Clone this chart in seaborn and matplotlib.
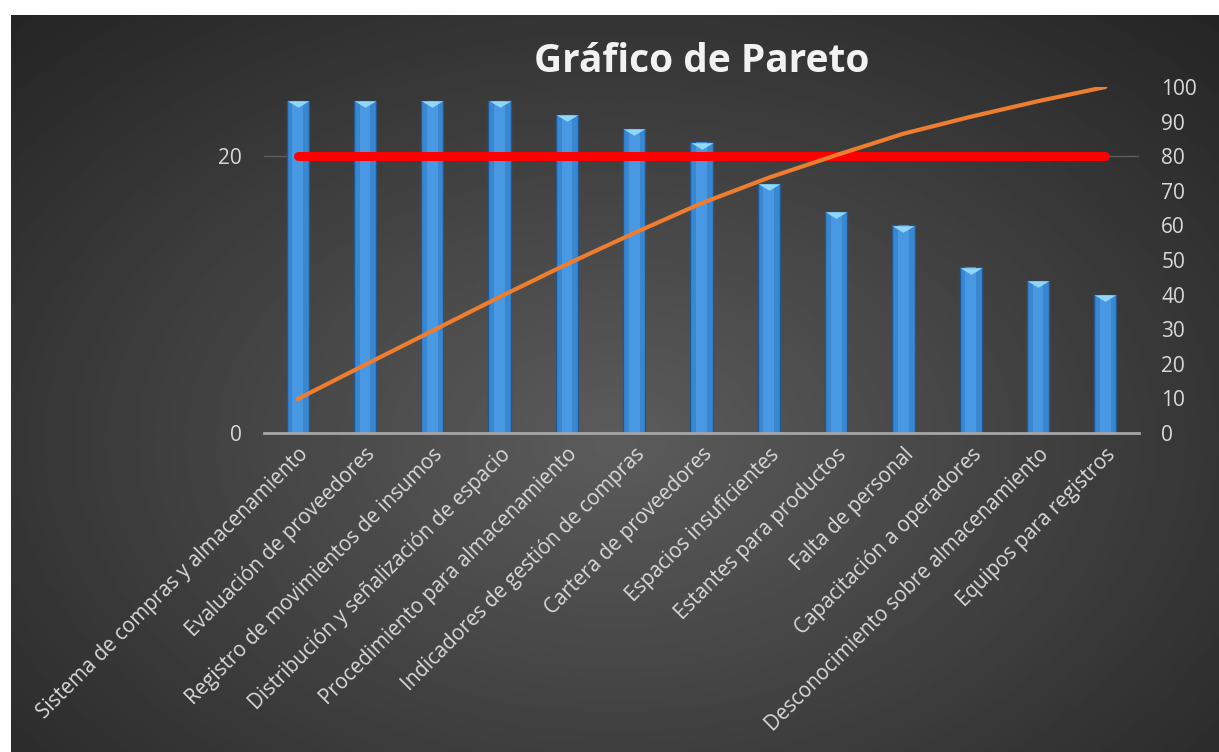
import numpy as np
import pandas as pd
import matplotlib
matplotlib.use("Agg")
import matplotlib.pyplot as plt
import matplotlib.transforms as mtransforms
import seaborn as sns

# datos del grafico
causas = [
    "Sistema de compras y almacenamiento",
    "Evaluación de proveedores",
    "Registro de movimientos de insumos",
    "Distribución y señalización de espacio",
    "Procedimiento para almacenamiento",
    "Indicadores de gestión de compras",
    "Cartera de proveedores",
    "Espacios insuficientes",
    "Estantes para productos",
    "Falta de personal",
    "Capacitación a operadores",
    "Desconocimiento sobre almacenamiento",
    "Equipos para registros",
]
frecuencia = [24, 24, 24, 24, 23, 22, 21, 18, 16, 15, 12, 11, 10]
acumulado = [9.8, 19.7, 29.5, 39.3, 48.8, 57.8, 66.4, 73.8, 80.3, 86.5, 91.4, 95.9, 100]
limite = [80] * len(causas)

df = pd.DataFrame({"causa": causas, "frecuencia": frecuencia,
                   "acumulado": acumulado, "limite": limite})

sns.set_theme(style="dark")
plt.rcParams["font.family"] = ["Open Sans", "DejaVu Sans"]

W, H = 1219, 752
fig = plt.figure(figsize=(W / 100, H / 100), dpi=100, facecolor="white")

# fondo con degradado radial
bg = fig.add_axes([11 / W, 0, 1 - 11 / W, 1 - 15 / H])
yy, xx = np.mgrid[0:1:300j, 0:1:500j]
r = np.sqrt(((xx - 0.5) / 0.72) ** 2 + ((yy - 0.58) / 0.8) ** 2)
r = np.clip(r, 0, 1)
light, dark = 0x5c / 255, 0x25 / 255
grad = light + (dark - light) * r
bg.imshow(grad, cmap="gray", vmin=0, vmax=1, aspect="auto",
          extent=[0, 1, 0, 1], origin="upper")
bg.axis("off")

ax = fig.add_axes([264 / W, 1 - 433 / H, (1139 - 264) / W, (433 - 87) / H])
ax.patch.set_alpha(0)

sns.barplot(data=df, x="causa", y="frecuencia", ax=ax, width=0.33,
            color="#3a86cf", edgecolor="#24578f", linewidth=1, saturation=1)
sns.barplot(data=df, x="causa", y="frecuencia", ax=ax, width=0.16,
            color="#4fa0ee", linewidth=0, saturation=1, alpha=0.7)
# bisel triangular en la parte superior de cada barra
bisel = [(-1, 0.3), (1, 0.3), (0, -0.3)]
tri = mtransforms.offset_copy(ax.transData, fig=fig, x=0, y=-2.6, units="points")
ax.scatter(range(len(causas)), frecuencia, marker=bisel, s=250,
           color="#8fd6f8", transform=tri, zorder=5, linewidths=0)

ax.set_ylim(0, 25)
ax.set_xlim(-0.5, len(causas) - 0.5)
ax.set_yticks([0, 20])
ax.grid(False)
ax.axhline(20, color="#5e5e5e", lw=1, zorder=0)
for s in ["top", "right", "left"]:
    ax.spines[s].set_visible(False)
ax.spines["bottom"].set_color("#a6a6a6")
ax.spines["bottom"].set_linewidth(2)
ax.set_xlabel("")
ax.set_ylabel("")
ax.tick_params(axis="y", colors="#d9d9d9", labelsize=15, length=0, pad=16)
ax.tick_params(axis="x", colors="#d9d9d9", labelsize=14.8, length=0, pad=8)
ax.set_xticks(range(len(causas)))
ax.set_xticklabels(causas, rotation=45, ha="right", rotation_mode="anchor")

ax2 = ax.twinx()
ax2.patch.set_alpha(0)
sns.lineplot(x=range(len(causas)), y=df["limite"], ax=ax2, color="#ff0000",
             lw=6.5, solid_capstyle="round", zorder=3)
sns.lineplot(x=range(len(causas)), y=df["acumulado"], ax=ax2, color="#ed7d31",
             lw=3, zorder=4)
ax2.set_ylim(0, 100)
ax2.set_yticks(range(0, 101, 10))
ax2.grid(False)
for s in ax2.spines.values():
    s.set_visible(False)
ax2.set_ylabel("")
ax2.tick_params(axis="y", colors="#d9d9d9", labelsize=15, length=0, pad=16)

fig.text(0.576, 1 - 62 / H, "Gráfico de Pareto", ha="center", va="center",
         fontsize=28, fontweight="bold", color="#f2f2f2")

fig.savefig("out.png", dpi=100, facecolor="white")
